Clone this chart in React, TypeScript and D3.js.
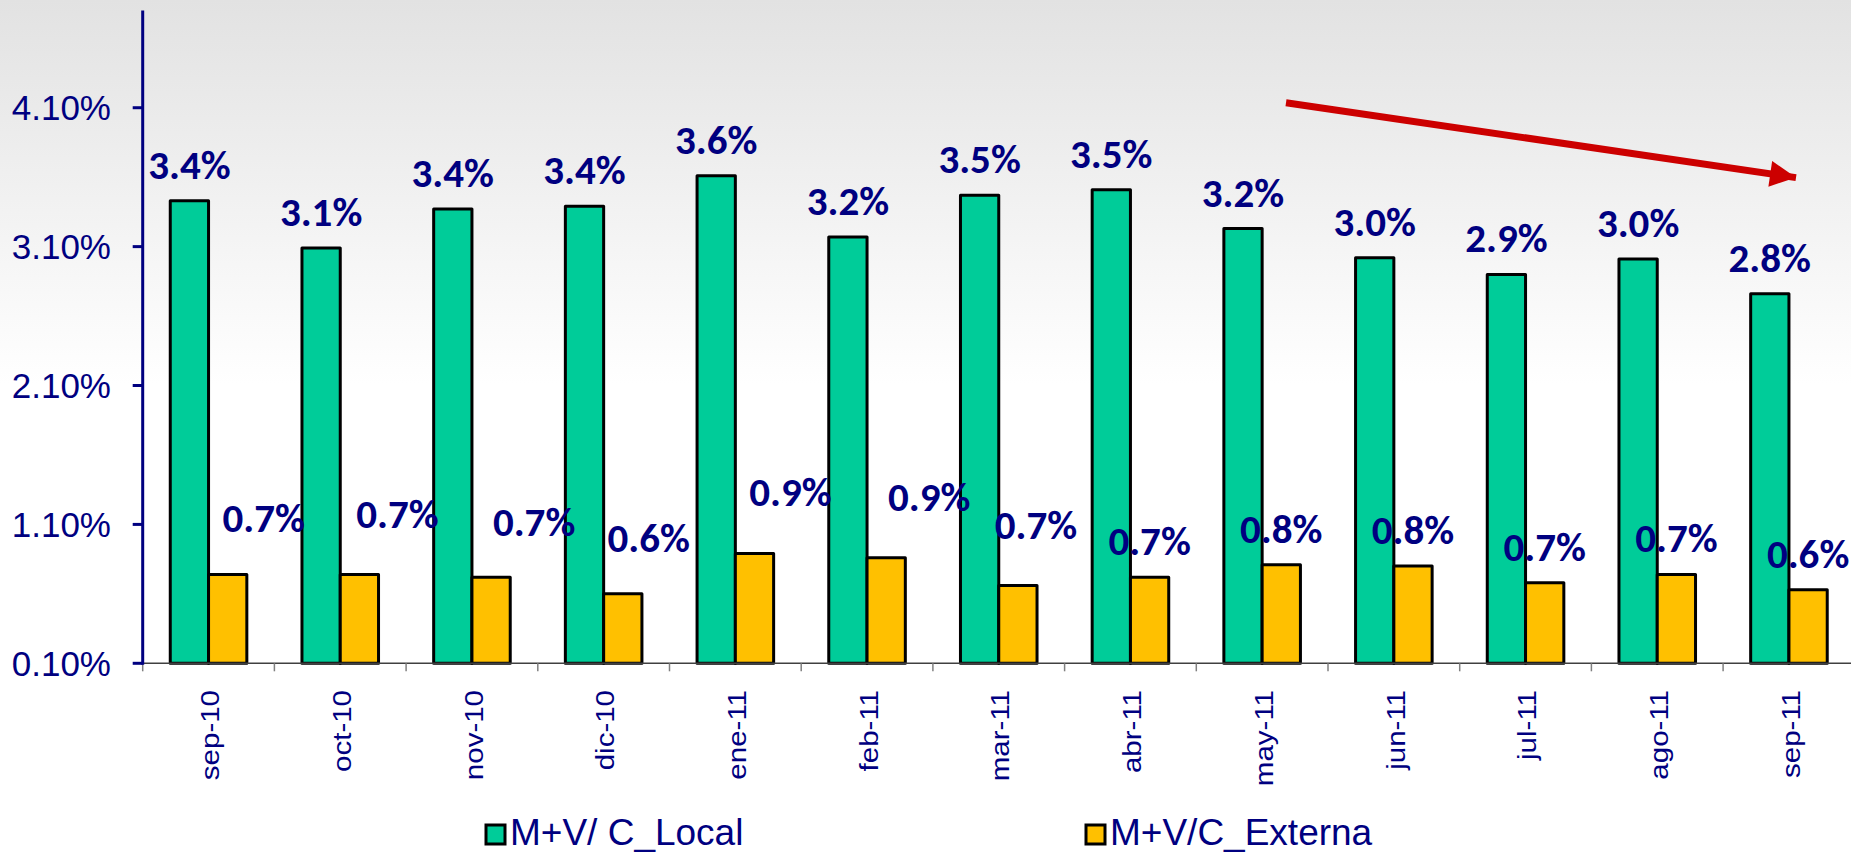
import * as d3 from 'd3';
import { useEffect, useRef } from 'react';

const months = [
  'sep-10', 'oct-10', 'nov-10', 'dic-10', 'ene-11', 'feb-11', 'mar-11',
  'abr-11', 'may-11', 'jun-11', 'jul-11', 'ago-11', 'sep-11',
];
const localValues = [3.43, 3.09, 3.37, 3.39, 3.61, 3.17, 3.47, 3.51, 3.23, 3.02, 2.9, 3.01, 2.76];
const externaValues = [0.74, 0.74, 0.72, 0.6, 0.89, 0.86, 0.66, 0.72, 0.81, 0.8, 0.68, 0.74, 0.63];
const seriesNames = ['M+V/ C_Local', 'M+V/C_Externa'];
const seriesColors = ['#00CC99', '#FFC000'];
const yTicks = [0.1, 1.1, 2.1, 3.1, 4.1];

// the original labels of the yellow series were dragged by hand (px)
const externaLabelNudge = [
  [36, -20], [38, -24], [43, -19], [26, -20], [36, -26], [43, -25], [18, -25],
  [0, 0], [0, 0], [0, 0], [0, 0], [0, 0], [0, 0],
];

const W = 1851;
const H = 853;
const NAVY = '#000080';
const ARIAL = "Arial, 'Liberation Sans', sans-serif";
const BOLD = "Calibri, Carlito, Lato, sans-serif";

const App = () => {
  const ref = useRef<SVGSVGElement | null>(null);

  useEffect(() => {
    if (!ref.current) return;
    const svg = d3.select(ref.current);
    svg.selectAll('*').remove();

    // background gradient
    const defs = svg.append('defs');
    const grad = defs
      .append('linearGradient')
      .attr('id', 'bg')
      .attr('x1', 0)
      .attr('y1', 0)
      .attr('x2', 0)
      .attr('y2', 1);
    grad.append('stop').attr('offset', '0%').attr('stop-color', '#e2e2e2');
    grad.append('stop').attr('offset', '45%').attr('stop-color', '#ffffff');
    grad.append('stop').attr('offset', '100%').attr('stop-color', '#ffffff');
    svg.append('rect').attr('width', W).attr('height', H).attr('fill', 'url(#bg)');

    const x = d3.scaleBand<string>().domain(months).range([142.7, 1854.8]).padding(0);
    const xs = d3
      .scaleBand<number>()
      .domain([0, 1])
      .range([0, x.bandwidth()])
      .paddingInner(0)
      .paddingOuter(0.72);
    const y = d3.scaleLinear().domain([0.1, 4.8]).range([663.3, 10.5]);
    const fmt = (v: number) => d3.format('.1f')(v) + '%';

    const series = [localValues, externaValues];

    // bars
    series.forEach((vals, si) => {
      svg
        .append('g')
        .selectAll('rect')
        .data(vals)
        .enter()
        .append('rect')
        .attr('x', (_d, i) => (x(months[i]) as number) + (xs(si) as number))
        .attr('y', (d) => y(d))
        .attr('width', xs.bandwidth())
        .attr('height', (d) => y(0.1) - y(d))
        .attr('fill', seriesColors[si])
        .attr('stroke', '#000')
        .attr('stroke-width', 3)
        .attr('stroke-linejoin', 'round');
    });

    // x axis
    const xAxis = svg.append('g');
    xAxis
      .append('line')
      .attr('x1', x.range()[0])
      .attr('x2', W)
      .attr('y1', y(0.1))
      .attr('y2', y(0.1))
      .attr('stroke', '#404040')
      .attr('stroke-width', 1.5);
    xAxis
      .selectAll('line.tick')
      .data(months)
      .enter()
      .append('line')
      .attr('class', 'tick')
      .attr('x1', (d) => x(d) as number)
      .attr('x2', (d) => x(d) as number)
      .attr('y1', y(0.1))
      .attr('y2', y(0.1) + 8)
      .attr('stroke', '#808080')
      .attr('stroke-width', 1.5);
    xAxis
      .selectAll('text')
      .data(months)
      .enter()
      .append('text')
      .attr(
        'transform',
        (d) => `translate(${(x(d) as number) + x.bandwidth() / 2 + 2},690) rotate(-90) scale(1.18,1)`
      )
      .attr('text-anchor', 'end')
      .attr('dominant-baseline', 'central')
      .attr('font-family', ARIAL)
      .attr('font-size', 25)
      .attr('fill', NAVY)
      .text((d) => d);

    // y axis
    const yAxis = svg.append('g');
    yAxis
      .append('line')
      .attr('x1', 142.7)
      .attr('x2', 142.7)
      .attr('y1', y(4.8))
      .attr('y2', y(0.1) + 1.5)
      .attr('stroke', NAVY)
      .attr('stroke-width', 3);
    yAxis
      .selectAll('line.tick')
      .data(yTicks)
      .enter()
      .append('line')
      .attr('class', 'tick')
      .attr('x1', 132.7)
      .attr('x2', 142.7)
      .attr('y1', (d) => y(d))
      .attr('y2', (d) => y(d))
      .attr('stroke', NAVY)
      .attr('stroke-width', 3);
    yAxis
      .selectAll('text')
      .data(yTicks)
      .enter()
      .append('text')
      .attr('x', 111)
      .attr('y', (d) => y(d))
      .attr('text-anchor', 'end')
      .attr('dominant-baseline', 'central')
      .attr('font-family', ARIAL)
      .attr('font-size', 35)
      .attr('fill', NAVY)
      .text((d) => d3.format('.2f')(d) + '%');

    // value labels
    series.forEach((vals, si) => {
      svg
        .append('g')
        .selectAll('text')
        .data(vals)
        .enter()
        .append('text')
        .attr('x', (_d, i) => {
          const cx = (x(months[i]) as number) + (xs(si) as number) + xs.bandwidth() / 2;
          return si === 1 ? cx + externaLabelNudge[i][0] : cx;
        })
        .attr('y', (d, i) => y(d) - 22 + (si === 1 ? externaLabelNudge[i][1] : 0))
        .attr('text-anchor', 'middle')
        .attr('font-family', BOLD)
        .attr('font-weight', 700)
        .attr('font-size', 41)
        .attr('fill', NAVY)
        .text((d) => fmt(d));
    });

    // trend arrow
    defs
      .append('marker')
      .attr('id', 'arrow')
      .attr('viewBox', '0 0 10 10')
      .attr('refX', 10)
      .attr('refY', 5)
      .attr('markerUnits', 'userSpaceOnUse')
      .attr('markerWidth', 28)
      .attr('markerHeight', 26)
      .attr('orient', 'auto')
      .append('path')
      .attr('d', 'M0,0 L10,5 L0,10 Z')
      .attr('fill', '#CC0000');
    svg
      .append('line')
      .attr('x1', 1286)
      .attr('y1', 102.7)
      .attr('x2', 1796)
      .attr('y2', 177.6)
      .attr('stroke', '#CC0000')
      .attr('stroke-width', 7)
      .attr('marker-end', 'url(#arrow)');

    // legend
    const legendX = [486, 1086];
    const legend = svg
      .append('g')
      .selectAll('g')
      .data(seriesNames)
      .enter()
      .append('g')
      .attr('transform', (_d, i) => `translate(${legendX[i]},825)`);
    legend
      .append('rect')
      .attr('width', 19)
      .attr('height', 19)
      .attr('fill', (_d, i) => seriesColors[i])
      .attr('stroke', '#000')
      .attr('stroke-width', 3);
    legend
      .append('text')
      .attr('x', 24)
      .attr('y', 20)
      .attr('font-family', ARIAL)
      .attr('font-size', 37)
      .attr('fill', NAVY)
      .text((d) => d);
  }, []);

  return (
    <svg
      ref={ref}
      width={W}
      height={H}
      style={{ position: 'absolute', left: 0, top: 0, display: 'block' }}
    />
  );
};

export default App;
